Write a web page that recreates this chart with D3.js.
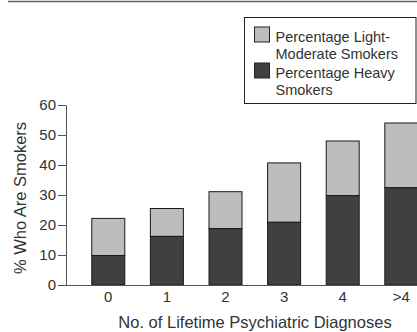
<!DOCTYPE html>
<html lang="en">
<head>
    <meta charset="UTF-8">
    <title>Smokers by diagnoses</title>
    <script src="https://cdn.jsdelivr.net/npm/d3@7"></script>
    <style>
        body { margin: 0; background: #fff; }
        text { font-family: "Liberation Sans", Arial, sans-serif; fill: #333; }
    </style>
</head>
<body>
<script>
    const categories = ["0", "1", "2", "3", "4", ">4"];
    const heavy = [9.8, 16.2, 18.8, 20.9, 29.8, 32.4];
    const total = [22.2, 25.5, 31.1, 40.7, 48.0, 54.0];
    const yTicks = [0, 10, 20, 30, 40, 50, 60];
    const legendLabels = [["Percentage Light-", "Moderate Smokers"], ["Percentage Heavy", "Smokers"]];

    const dim = {width: 417, height: 332};
    const m = {left: 66, top: 105, bottom: 285};
    const colors = {light: "#bdbdbd", heavy: "#404040"};

    const svg = d3.select("body").append("svg")
        .attr("width", dim.width)
        .attr("height", dim.height);

    // rule along the top
    svg.append("line")
        .attr("x1", 8).attr("x2", dim.width)
        .attr("y1", 1.5).attr("y2", 1.5)
        .style("stroke", "#666").style("stroke-width", 1.5);

    const x = d3.scaleBand().domain(categories)
        .range([m.left, m.left + 377.6])
        .paddingInner(0.437).paddingOuter(0.44);
    const y = d3.scaleLinear().domain([0, 60]).range([m.bottom, m.top]);

    const rows = categories.map((c, i) => ({c, heavy: heavy[i], total: total[i]}));

    const bars = svg.append("g");
    bars.selectAll("rect.light")
        .data(rows)
        .join("rect")
        .attr("class", "light")
        .attr("x", d => x(d.c))
        .attr("width", x.bandwidth())
        .attr("y", d => y(d.total))
        .attr("height", d => y(d.heavy) - y(d.total))
        .style("fill", colors.light).style("stroke", "#1a1a1a").style("stroke-width", 1);
    bars.selectAll("rect.heavy")
        .data(rows)
        .join("rect")
        .attr("class", "heavy")
        .attr("x", d => x(d.c))
        .attr("width", x.bandwidth())
        .attr("y", d => y(d.heavy))
        .attr("height", d => y(0) - y(d.heavy))
        .style("fill", colors.heavy).style("stroke", "#1a1a1a").style("stroke-width", 1);

    // y axis
    const yAxis = svg.append("g")
        .attr("transform", `translate(${m.left},0)`)
        .call(d3.axisLeft(y).tickValues(yTicks).tickSize(8).tickPadding(2).tickSizeOuter(0));
    yAxis.selectAll("text").style("font-size", "15px").style("font-family", null);
    yAxis.selectAll("line, path").style("stroke", "#555");

    // x axis
    const xAxis = svg.append("g")
        .attr("transform", `translate(0,${m.bottom})`)
        .call(d3.axisBottom(x).tickSize(0).tickPadding(6));
    xAxis.select("path").attr("d", `M${m.left},0.5H${dim.width}`).style("stroke", "#555");
    xAxis.selectAll("text").style("font-size", "15px").style("font-family", null);

    svg.append("text")
        .attr("x", 255).attr("y", 328)
        .attr("text-anchor", "middle")
        .style("font-size", "16.5px")
        .text("No. of Lifetime Psychiatric Diagnoses");

    svg.append("text")
        .attr("transform", `translate(26,198) rotate(-90)`)
        .attr("text-anchor", "middle")
        .style("font-size", "16.5px")
        .text("% Who Are Smokers");

    // legend
    const lg = svg.append("g");
    lg.append("rect")
        .attr("x", 244.5).attr("y", 17.5)
        .attr("width", 171.5).attr("height", 86)
        .style("fill", "#fff").style("stroke", "#222");
    const items = lg.selectAll("g.item")
        .data([colors.light, colors.heavy])
        .join("g")
        .attr("transform", (d, i) => `translate(254.5,${27 + i * 36})`);
    items.append("rect")
        .attr("width", 15).attr("height", 15)
        .style("fill", d => d).style("stroke", "#222");
    items.append("text")
        .style("font-size", "14.5px")
        .selectAll("tspan")
        .data((d, i) => legendLabels[i])
        .join("tspan")
        .attr("x", 21)
        .attr("y", (d, j) => 15 + j * 16.5)
        .text(d => d);
</script>
</body>
</html>
